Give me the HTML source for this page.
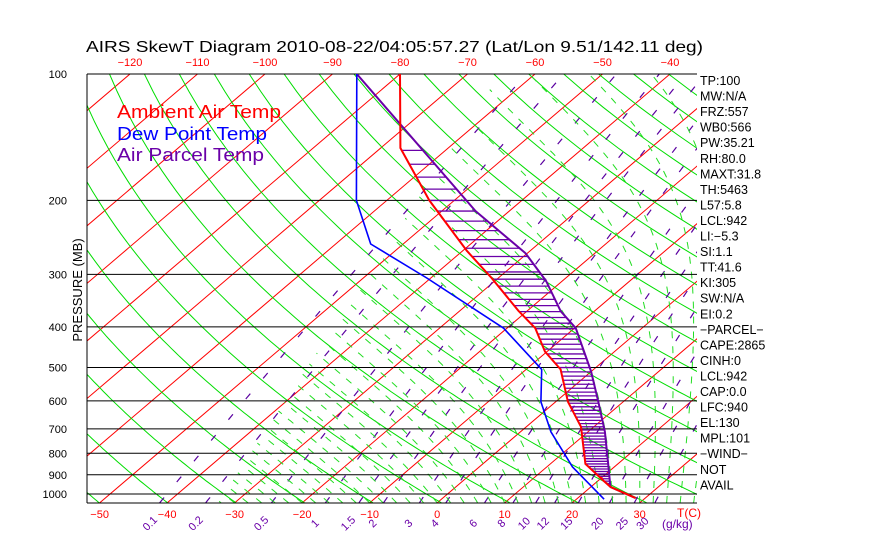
<!DOCTYPE html>
<html><head><meta charset="utf-8">
<style>
html,body{margin:0;padding:0;background:#fff;}
svg{display:block;font-family:"Liberation Sans",sans-serif;}
</style></head>
<body>
<svg id="chart" width="870" height="560" viewBox="0 0 870 560" xmlns="http://www.w3.org/2000/svg">
<rect width="870" height="560" fill="#fff"/>
<text x="86" y="52" font-size="16" textLength="617" lengthAdjust="spacingAndGlyphs" fill="#000">AIRS SkewT Diagram 2010-08-22/04:05:57.27 (Lat/Lon 9.51/142.11 deg)</text>
<defs>
<clipPath id="plotclip"><rect x="87" y="74" width="610" height="429"/></clipPath>
<clipPath id="moistclip"><polygon points="218,503 500,74 697,74 697,503"/></clipPath>
</defs>
<g id="bg" clip-path="url(#plotclip)"></g>
<g id="moist" clip-path="url(#moistclip)"></g>
<g id="grid"></g>
<g id="prof" clip-path="url(#plotclip)"></g>
<g id="labels"></g>
<text x="117" y="118" font-size="18" fill="#ff0000" textLength="164" lengthAdjust="spacingAndGlyphs">Ambient Air Temp</text>
<text x="117" y="140" font-size="18" fill="#0000ff" textLength="150" lengthAdjust="spacingAndGlyphs">Dew Point Temp</text>
<text x="117" y="161" font-size="18" fill="#6a00a8" textLength="147" lengthAdjust="spacingAndGlyphs">Air Parcel Temp</text>
<text transform="translate(82,290) rotate(-90)" text-anchor="middle" font-size="13" fill="#000">PRESSURE (MB)</text>
<text x="677" y="517" font-size="12" fill="#ff0000">T(C)</text>
<text x="662" y="528" font-size="12" fill="#6a00a8">(g/kg)</text>
</svg>
<script>
// ---- data ----
const pressureLevels=[100,200,300,400,500,600,700,800,900,1000];
const topTempTicks=[-120,-110,-100,-90,-80,-70,-60,-50,-40];
const bottomTempTicks=[-50,-40,-30,-20,-10,0,10,20,30];
const mixingRatios=[0.1,0.2,0.5,1,1.5,2,3,4,6,8,10,12,15,20,25,30];
const tempP=[100,150,200,264,306,367,403,458,505,603,692,848,936,962,1023];
const tempT=[-80,-67.1,-53.7,-39.3,-31.0,-21.2,-15.8,-10.3,-4.9,1.8,8.1,15.2,21.2,22.9,28.6];
const dewP=[100,200,254,306,403,505,603,711,862,1029];
const dewT=[-86.4,-64.5,-54.8,-40.6,-20.5,-7.7,-2.2,4.5,13.8,24.1];
const parcelP=[100,212,267,311,367,403,511,603,711,839,962,1023];
const parcelT=[-86.4,-45.0,-30.3,-22.4,-15.0,-9.8,0.0,6.3,12.5,18.2,22.9,28.6];
const sideLabels=["TP:100","MW:N/A","FRZ:557","WB0:566","PW:35.21","RH:80.0","MAXT:31.8","TH:5463","L57:5.8","LCL:942","LI:\u22125.3","SI:1.1","TT:41.6","KI:305","SW:N/A","EI:0.2","\u2212PARCEL\u2212","CAPE:2865","CINH:0","LCL:942","CAP:0.0","LFC:940","EL:130","MPL:101","\u2212WIND\u2212","NOT","AVAIL"];

// ---- axes ----
const NS="http://www.w3.org/2000/svg";
const X0=87,X1=697,Y0=74,YB=503,B=182.4,SK=1.1725,DT=6.75;
function yP(p){return Y0+B*Math.log(p/100);}
function xT(T,p){return 437+DT*T+SK*(YB-yP(p));}
function mk(tag,attrs,parent){const e=document.createElementNS(NS,tag);for(const k in attrs)e.setAttribute(k,attrs[k]);parent.appendChild(e);return e;}
const bg=document.getElementById('bg'),moist=document.getElementById('moist'),grid=document.getElementById('grid'),prof=document.getElementById('prof'),lab=document.getElementById('labels');
function pathFrom(pts){return pts.map((q,i)=>(i?'L':'M')+q[0].toFixed(1)+' '+q[1].toFixed(1)).join('');}
function es(Tc){return 6.112*Math.exp(17.67*Tc/(Tc+243.5));}

// isotherms
for(let T=-160;T<=50;T+=10){
  const e=mk('line',{x1:xT(T,1050),y1:yP(1050),x2:xT(T,100),y2:yP(100),stroke:'#ff0000','stroke-width':1},bg);
  
  
}
// dry adiabats
for(let th=150;th<=500;th+=10){
  const pts=[];for(let p=1050;p>=100;p-=10){const T=th*Math.pow(p/1000,0.286)-273.15;pts.push([xT(T,p),yP(p)]);}
  const e=mk('path',{d:pathFrom(pts),fill:'none',stroke:'#00dd00','stroke-width':1},bg);
  
  
}
// moist adiabats
for(let T0=-34;T0<=40;T0+=2){
  let T=T0+273.15;const pts=[];
  for(let p=1050;p>=100;p-=5){
    pts.push([xT(T-273.15,p),yP(p)]);
    const e0=es(T-273.15),rs=0.622*e0/(p-e0);
    const dTdp=(287*T+2.5e6*rs)/(1004+2.5e6*2.5e6*rs*0.622/(287*T*T))/p;
    T-=dTdp*5;
  }
  const e=mk('path',{d:pathFrom(pts),fill:'none',stroke:'#22dd22','stroke-width':1,'stroke-dasharray':'7 8'},moist);
  
  
}
// mixing ratio lines
function tdW(w,p){const e=w*p/(622+w);const l=Math.log(e/6.112);return 243.5*l/(17.67-l);}
mixingRatios.forEach(w=>{
  const pts=[];for(let p=1050;p>=100;p-=10)pts.push([xT(tdW(w,p),p),yP(p)]);
  const e=mk('path',{d:pathFrom(pts),fill:'none',stroke:'#5a00a0','stroke-width':1.2,'stroke-dasharray':'7 20'},bg);
  
  
  const x=xT(tdW(w,1000),1050)-4;
  const t=mk('text',{x:0,y:0,'font-size':11,fill:'#6a00a8','text-anchor':'middle',transform:`translate(${x.toFixed(1)},526) rotate(-45)`},lab);
  t.textContent=String(w);
  
  
});
// pressure lines and labels
pressureLevels.forEach(p=>{
  const e=mk('line',{x1:X0,y1:yP(p),x2:X1,y2:yP(p),stroke:'#000','stroke-width':1},grid);
  
  
  const t=mk('text',{x:67,y:yP(p)+4,'font-size':11,'text-anchor':'end',fill:'#000'},lab);
  t.textContent=String(p);
  
  
});
let e0=mk('line',{x1:X0,y1:YB,x2:X1,y2:YB,stroke:'#000','stroke-width':1},grid);


e0=mk('line',{x1:X0,y1:Y0,x2:X0,y2:YB,stroke:'#000','stroke-width':1},grid);


topTempTicks.forEach(T=>{
  const t=mk('text',{x:xT(T,100),y:66,'font-size':11,'text-anchor':'middle',fill:'#ff0000'},lab);
  t.textContent=T<0?'\u2212'+(-T):String(T);
  
  
});
bottomTempTicks.forEach(T=>{
  const t=mk('text',{x:xT(T,1050),y:518,'font-size':11,'text-anchor':'middle',fill:'#ff0000'},lab);
  t.textContent=T<0?'\u2212'+(-T):String(T);
  
  
});
sideLabels.forEach((s,i)=>{
  const t=mk('text',{x:700,y:85+i*15.55,'font-size':12.5,fill:'#000'},lab);
  t.textContent=s;
  
  
});
// hatching between parcel and temp
function interp(P,T,p){for(let i=0;i<P.length-1;i++){if(p>=P[i]&&p<=P[i+1]){const f=Math.log(p/P[i])/Math.log(P[i+1]/P[i]);return T[i]+f*(T[i+1]-T[i]);}}return null;}
for(let p=152;p<=1000;p+=12){
  const a=interp(tempP,tempT,p),b=interp(parcelP,parcelT,p);
  if(a===null||b===null||b<=a)continue;
  const e=mk('line',{x1:xT(a,p),y1:yP(p),x2:xT(b,p),y2:yP(p),stroke:'#6a00a8','stroke-width':1.3},prof);
  
  
}
function profile(P,T,color,w,name){
  const e=mk('path',{d:pathFrom(P.map((p,i)=>[xT(T[i],p),yP(p)])),fill:'none',stroke:color,'stroke-width':w,'stroke-linejoin':'round'},prof);
  
  
}
profile(parcelP,parcelT,'#6a00a8',2,'parcel-temp-line');
profile(dewP,dewT,'#0000ff',1.6,'dew-point-line');
profile(tempP,tempT,'#ff0000',2,'ambient-temp-line');
</script>
</body></html>
